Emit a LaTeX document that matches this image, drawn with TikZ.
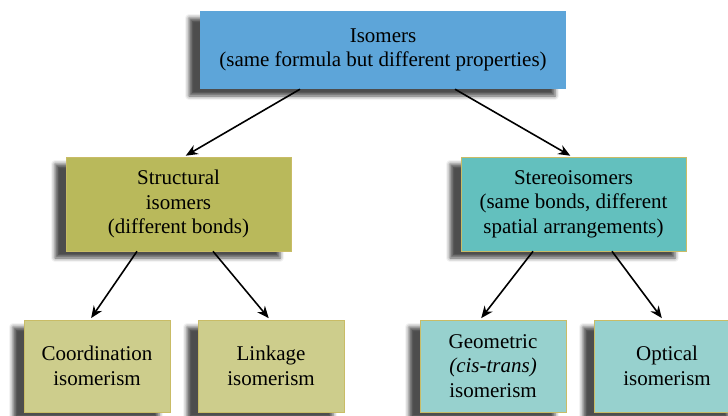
\documentclass[tikz,border=0pt]{standalone}
\usepackage{fontspec}
\setmainfont{Liberation Serif}
\usetikzlibrary{shadows.blur,arrows.meta}
\definecolor{topblue}{HTML}{5DA5D9}
\definecolor{midolive}{HTML}{B9B95B}
\definecolor{midteal}{HTML}{63C0BE}
\definecolor{lowolive}{HTML}{CDCD8C}
\definecolor{lowteal}{HTML}{97D1CE}
\definecolor{edgetan}{HTML}{C9BC66}
\tikzset{
  boxbase/.style={align=center, inner sep=2pt, font=\fontsize{21}{24.5}\selectfont,
    blur shadow={shadow xshift=-11pt, shadow yshift=-7pt, shadow blur radius=4pt, shadow opacity=70}},
  topbox/.style={boxbase, fill=topblue, minimum width=366pt, minimum height=78pt},
  midbox/.style={boxbase, minimum width=225pt, minimum height=94pt, draw=edgetan, line width=0.6pt},
  lowbox/.style={boxbase, minimum width=146pt, minimum height=92pt, draw=edgetan, line width=0.6pt},
  link/.style={line width=1.6pt, -{Stealth[length=12pt,width=10pt]}, shorten >=2pt}
}
\begin{document}
\begin{tikzpicture}[x=1pt,y=-1pt]
\useasboundingbox (0,0) rectangle (728,415);
\node[topbox] (top) at (383,50) {Isomers\\(same formula but different properties)};
\node[midbox, fill=midolive] (struct) at (178.5,204) {Structural\\isomers\\(different bonds)};
\node[midbox, fill=midteal] (stereo) at (573.5,204) {Stereoisomers\\(same bonds, different\\spatial arrangements)};
\node[lowbox, fill=lowolive] (coord) at (97,366) {Coordination\\isomerism};
\node[lowbox, fill=lowolive] (linkage) at (271,366) {Linkage\\isomerism};
\node[lowbox, fill=lowteal] (geom) at (493,366) {Geometric\\\textit{(cis-trans)}\\isomerism};
\node[lowbox, fill=lowteal] (optical) at (667,366) {Optical\\isomerism};
\draw[link] ([xshift=-83pt]top.south) -- ([xshift=5.5pt]struct.north);
\draw[link] ([xshift=72pt]top.south) -- ([xshift=-1.5pt]stereo.north);
\draw[link] ([xshift=-41.5pt]struct.south) -- ([xshift=-7pt]coord.north);
\draw[link] ([xshift=34.5pt]struct.south) -- ([xshift=-1pt]linkage.north);
\draw[link] ([xshift=-40.5pt]stereo.south) -- ([xshift=-13pt]geom.north);
\draw[link] ([xshift=38.5pt]stereo.south) -- ([xshift=-4pt]optical.north);
\end{tikzpicture}
\end{document}
